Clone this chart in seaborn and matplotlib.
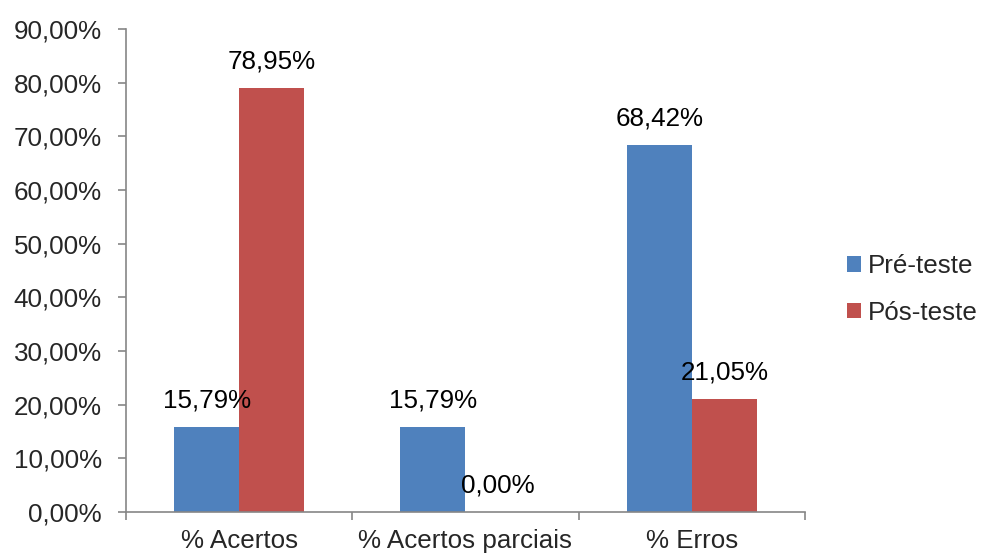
import matplotlib
matplotlib.use("Agg")
import matplotlib.pyplot as plt
import seaborn as sns
import pandas as pd
from matplotlib.ticker import FixedLocator, FuncFormatter

categories = ["% Acertos", "% Acertos parciais", "% Erros"]
pre_teste = [15.79, 15.79, 68.42]
pos_teste = [78.95, 0.00, 21.05]
series_names = ["Pré-teste", "Pós-teste"]
colors = ["#4F81BD", "#C0504D"]

df = pd.DataFrame({
    "categoria": categories * 2,
    "valor": pre_teste + pos_teste,
    "teste": [series_names[0]] * 3 + [series_names[1]] * 3,
})

sns.set_style("white")
plt.rcParams["font.family"] = ["Liberation Sans", "DejaVu Sans"]
FS = 18.7

fig = plt.figure(figsize=(9.81, 5.54), dpi=100)
ax = fig.add_axes([0.1284, 0.0758, 0.8206 - 0.1284, 0.9477 - 0.0758])

sns.barplot(data=df, x="categoria", y="valor", hue="teste", order=categories,
            hue_order=series_names, palette=colors, width=0.575, gap=0,
            linewidth=0, saturation=1, ax=ax, legend=True)

def pct(v):
    return f"{v:.2f}%".replace(".", ",")

for container in ax.containers:
    for patch in container:
        h = patch.get_height()
        ax.annotate(pct(h), (patch.get_x() + patch.get_width() / 2, h),
                    xytext=(0, 19), textcoords="offset points",
                    ha="center", va="center", fontsize=FS, color="black")

ax.set_xlim(-0.5, 2.5)
ax.set_ylim(0, 90)
ax.set_yticks(range(0, 91, 10))
ax.yaxis.set_major_formatter(FuncFormatter(lambda v, p: pct(v)))
ax.xaxis.set_minor_locator(FixedLocator([-0.5, 0.5, 1.5, 2.5]))

spine_color = "#868686"
for side in ["top", "right"]:
    ax.spines[side].set_visible(False)
for side in ["left", "bottom"]:
    ax.spines[side].set_color(spine_color)
    ax.spines[side].set_linewidth(1.2)

ax.tick_params(axis="y", which="major", direction="out", length=5.8, width=1.2,
               color=spine_color, pad=11.5, labelsize=FS, left=True)
ax.tick_params(axis="x", which="major", length=0, pad=12.5, labelsize=FS)
ax.tick_params(axis="x", which="minor", direction="out", length=5.8, width=1.2,
               color=spine_color, bottom=True)
ax.set_xlabel("")
ax.set_ylabel("")

handles, labels = ax.get_legend_handles_labels()
ax.legend(handles, labels, loc="center left", bbox_to_anchor=(847 / 981, 1 - 289.5 / 554),
          bbox_transform=fig.transFigure, frameon=False, fontsize=FS,
          handlelength=0.55, handleheight=0.55, handletextpad=0.27,
          labelspacing=0.86, borderpad=0, borderaxespad=0)

fig.savefig("out.png", dpi=100)
